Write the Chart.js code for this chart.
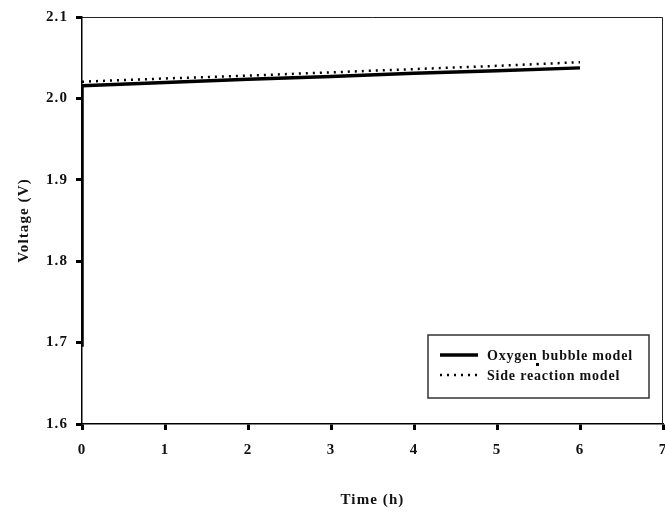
<!DOCTYPE html>
<html>
<head>
<meta charset="utf-8">
<script src="https://cdn.jsdelivr.net/npm/chart.js@4/dist/chart.umd.min.js"></script>
<style>
  html, body { margin: 0; padding: 0; background: #fff; }
  #wrap { width: 665px; height: 519px; }
</style>
</head>
<body>
<div id="wrap"><canvas id="voltageChart"></canvas></div>
<script>
// Cell voltage over time for the two models
const bubbleTime = [0, 0, 1, 2, 3, 4, 5, 6];
const bubbleVolt = [1.695, 2.0155, 2.0195, 2.0235, 2.027, 2.031, 2.034, 2.0375];
const sideTime = [0, 1, 2, 3, 4, 5, 6];
const sideVolt = [2.0205, 2.0245, 2.028, 2.032, 2.036, 2.040, 2.0445];
const seriesLabels = ['Oxygen bubble model', 'Side reaction model'];
const xTicks = [0, 7, 1];       // min, max, step
const yTicks = [1.6, 2.1, 0.1];

const serif = "'Liberation Serif', 'Times New Roman', serif";

Chart.defaults.color = '#111';
Chart.defaults.font.family = serif;
Chart.defaults.font.weight = 'bold';
Chart.defaults.font.size = 15;

function toPoints(xs, ys) {
  return xs.map((x, i) => ({ x: x, y: ys[i] }));
}

// spaced-out lettering for all chart text
const spacing = {
  id: 'spacing',
  beforeDraw(chart) {
    chart.ctx.letterSpacing = '1.1px';
  }
};

// frame around the plot area plus the boxed legend in the lower right
const frameLegend = {
  id: 'frameLegend',
  afterDraw(chart) {
    const ctx = chart.ctx;
    const a = chart.chartArea;
    ctx.save();
    ctx.strokeStyle = '#222';
    ctx.lineWidth = 1;
    ctx.beginPath();
    ctx.moveTo(a.left, a.top + 0.5);
    ctx.lineTo(a.right - 0.5, a.top + 0.5);
    ctx.lineTo(a.right - 0.5, a.bottom);
    ctx.stroke();

    const boxW = 221, boxH = 63;
    const bx = a.right - 14 - boxW;
    const by = a.bottom - 26 - boxH;
    ctx.lineWidth = 1.5;
    ctx.strokeStyle = '#333';
    ctx.strokeRect(bx, by, boxW, boxH);

    ctx.font = 'bold 14px ' + serif;
    ctx.letterSpacing = '0.8px';
    ctx.textBaseline = 'middle';
    ctx.textAlign = 'left';
    chart.data.datasets.forEach((ds, i) => {
      const y = by + 20 + i * 20;
      ctx.beginPath();
      ctx.strokeStyle = ds.borderColor;
      ctx.lineWidth = ds.borderWidth;
      ctx.setLineDash(ds.borderDash || []);
      ctx.moveTo(bx + 12, y);
      ctx.lineTo(bx + 50, y);
      ctx.stroke();
      ctx.setLineDash([]);
      ctx.fillStyle = '#111';
      ctx.fillText(ds.label, bx + 59, y + 1);
    });
    // small marker between the two legend rows
    ctx.fillStyle = '#000';
    ctx.fillRect(bx + 108, by + 28, 3, 3);
    ctx.restore();
  }
};

const ctx = document.getElementById('voltageChart').getContext('2d');
const voltageChart = new Chart(ctx, {
  type: 'line',
  data: {
    datasets: [
      {
        label: seriesLabels[0],
        data: toPoints(bubbleTime, bubbleVolt),
        borderColor: '#000',
        borderWidth: 3.5,
        pointRadius: 0,
        tension: 0
      },
      {
        label: seriesLabels[1],
        data: toPoints(sideTime, sideVolt),
        borderColor: '#000',
        borderWidth: 2.5,
        borderDash: [2, 5],
        pointRadius: 0,
        tension: 0
      }
    ]
  },
  options: {
    responsive: true,
    maintainAspectRatio: false,
    animation: false,
    layout: {
      padding: { top: 15, right: 2, left: 0, bottom: 0 }
    },
    scales: {
      x: {
        type: 'linear',
        min: xTicks[0],
        max: xTicks[1],
        afterFit(scale) {
          scale.height = 95;
          // let the last tick label run off the edge
          scale.paddingRight = 0;
        },
        ticks: {
          stepSize: xTicks[2],
          padding: 11,
          maxRotation: 0
        },
        grid: {
          drawOnChartArea: false,
          tickLength: 6,
          tickWidth: 3,
          tickColor: '#000'
        },
        border: { display: true, color: '#000', width: 1.5 },
        title: {
          display: true,
          text: 'Time (h)',
          padding: { top: 0, bottom: 10 },
          font: { size: 15, weight: 'bold' }
        }
      },
      y: {
        min: yTicks[0],
        max: yTicks[1],
        afterFit(scale) { scale.width = 82; },
        ticks: {
          stepSize: yTicks[2],
          padding: 8,
          callback: v => v.toFixed(1)
        },
        grid: {
          drawOnChartArea: false,
          tickLength: 6,
          tickWidth: 3,
          tickColor: '#000'
        },
        border: { display: true, color: '#000', width: 1.5 },
        title: {
          display: true,
          text: 'Voltage (V)',
          padding: { top: 15, bottom: 0 },
          font: { size: 15, weight: 'bold' }
        }
      }
    },
    plugins: {
      legend: { display: false },
      tooltip: { enabled: false }
    }
  },
  plugins: [spacing, frameLegend]
});
</script>
</body>
</html>
